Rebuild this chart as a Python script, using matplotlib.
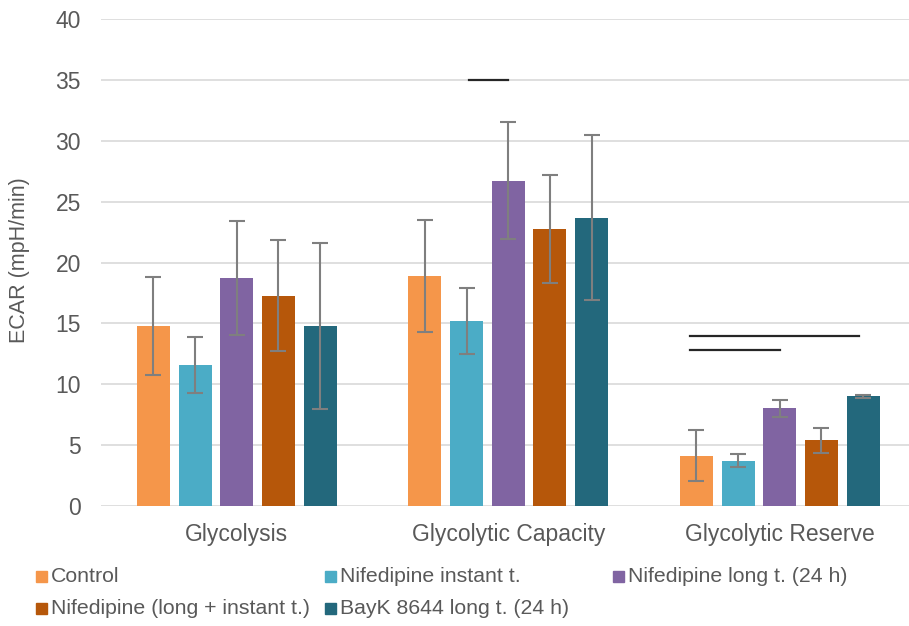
import matplotlib
matplotlib.use("Agg")
import matplotlib.pyplot as plt
from matplotlib.patches import Rectangle
import numpy as np

plt.rcParams['font.family'] = ['Liberation Sans', 'DejaVu Sans']

categories = ["Glycolysis", "Glycolytic Capacity", "Glycolytic Reserve"]
series_names = ["Control", "Nifedipine instant t.", "Nifedipine long t. (24 h)",
                "Nifedipine (long + instant t.)", "BayK 8644 long t. (24 h)"]
colors = ["#F5964A", "#4BACC6", "#8064A2", "#B6570A", "#23687C"]

control = [14.8, 18.9, 4.15]
nif_instant = [11.6, 15.2, 3.72]
nif_long = [18.75, 26.75, 8.02]
nif_long_instant = [17.3, 22.75, 5.4]
bayk = [14.8, 23.7, 9.0]

control_err = [4.0, 4.6, 2.1]
nif_instant_err = [2.3, 2.7, 0.55]
nif_long_err = [4.7, 4.8, 0.73]
nif_long_instant_err = [4.6, 4.45, 1.05]
bayk_err = [6.8, 6.75, 0.1]

# significance lines: x start, x end (data coords), y
sig_x0 = [0.855, 1.67, 1.67]
sig_x1 = [0.999, 2.29, 2.0]
sig_y = [35.05, 13.96, 12.84]

values = [control, nif_instant, nif_long, nif_long_instant, bayk]
errors = [control_err, nif_instant_err, nif_long_err, nif_long_instant_err, bayk_err]

fig = plt.figure(figsize=(9.09, 6.26), dpi=100)
ax = fig.add_axes([101/909, 120/626, 1 - 101/909, (506 - 19.3)/626])

x = np.arange(len(categories))
step = 0.1535
width = 0.122
for i, (vals, errs, c) in enumerate(zip(values, errors, colors)):
    pos = x + (i - 2) * step
    ax.bar(pos, vals, width=width, color=c, zorder=2)
    ax.errorbar(pos, vals, yerr=errs, fmt='none', ecolor='#7F7F7F',
                elinewidth=1.5, capsize=5.5, capthick=1.5, zorder=3)

for x0, x1, y in zip(sig_x0, sig_x1, sig_y):
    ax.plot([x0, x1], [y, y], color='#262626', lw=1.6, zorder=4)

ax.set_ylim(0, 40)
ax.set_xlim(-0.5, 2.476)
ax.set_yticks(np.arange(0, 41, 5))
ax.yaxis.grid(True, color='#D9D9D9', lw=1.2, zorder=0)
ax.set_axisbelow(True)
for s in ax.spines.values():
    s.set_visible(False)
ax.tick_params(axis='both', length=0, labelsize=16.5, labelcolor='#595959')
ax.tick_params(axis='y', pad=14.5)
ax.tick_params(axis='x', pad=12)
ax.set_xticks(x)
ax.set_xticklabels(categories)
fig.text(20 / 909, (626 - 260.5) / 626, "ECAR (mpH/min)", fontsize=15.5,
         color='#595959', rotation=90, ha='center', va='center')

# legend (manual layout like the original)
leg_pos = [(36, 576), (325, 576), (613, 576), (36, 608), (325, 608)]
for (px, py), name, c in zip(leg_pos, series_names, colors):
    fig.patches.append(Rectangle((px / 909, (626 - py - 5.5) / 626), 11 / 909, 11 / 626,
                                 transform=fig.transFigure, color=c))
    fig.text((px + 15) / 909, (626 - py) / 626, name, fontsize=15.3, color='#595959',
             va='center', ha='left')

fig.savefig("out.png", dpi=100)
